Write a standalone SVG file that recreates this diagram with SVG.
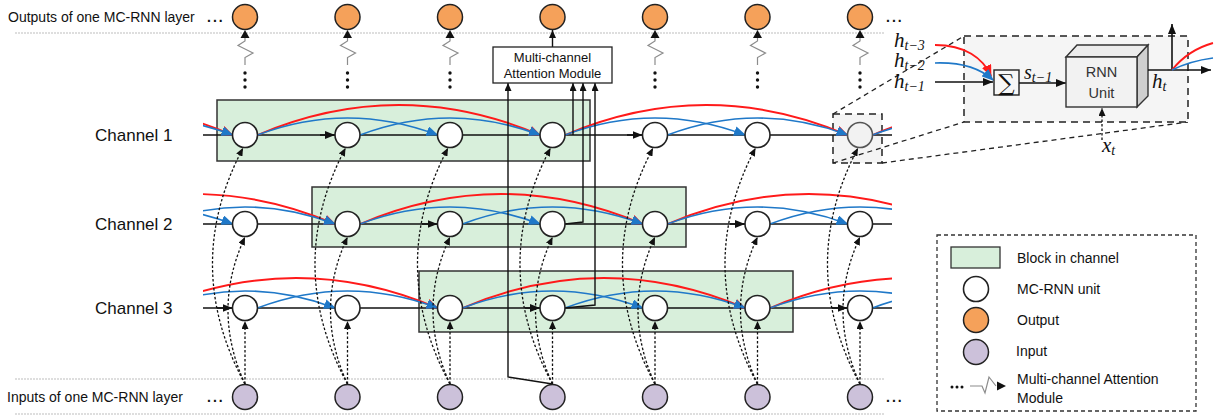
<svg xmlns="http://www.w3.org/2000/svg" width="1219" height="420" viewBox="0 0 1219 420">
<style>
text{font-family:"Liberation Sans",Arial,sans-serif;fill:#111}
.lbl{font-size:14px}
.ch{font-size:17px}
.dots{font-size:14px;font-weight:bold;letter-spacing:2px}
.mi{font-family:"Liberation Serif","DejaVu Serif",serif;font-style:italic}
.sep{stroke:#bdbdbd;stroke-width:1;stroke-dasharray:2 1;fill:none}
.blk{fill:#d8efdb;stroke:#333;stroke-width:1.5}
.hl{stroke:#111;stroke-width:1.6;fill:none}
.red{stroke:#ff1a1a;stroke-width:1.9;fill:none}
.blue{stroke:#1f78c8;stroke-width:1.6;fill:none}
.dot{stroke:#111;stroke-width:1.3;stroke-dasharray:2.5 2;fill:none}
.ln{stroke:#111;stroke-width:1.4;fill:none}
.zig{stroke:#8c8c8c;stroke-width:1.2;fill:none}
.unit{fill:#fff;stroke:#222;stroke-width:1.6}
.out{fill:#f5a15a;stroke:#222;stroke-width:1.5}
.inp{fill:#ccc1da;stroke:#222;stroke-width:1.5}
.dash{stroke:#222;stroke-width:1.5;stroke-dasharray:7 5}
.dl{stroke:#222;stroke-width:1.3;stroke-dasharray:5 4;fill:none}
</style>
<defs>
<marker id="aK" markerUnits="userSpaceOnUse" markerWidth="10" markerHeight="8" refX="10" refY="4" orient="auto"><path d="M0,0 L10,4 L0,8 z" fill="#111"/></marker>
<marker id="aS" markerUnits="userSpaceOnUse" markerWidth="8" markerHeight="7" refX="8" refY="3.5" orient="auto"><path d="M0,0 L8,3.5 L0,7 z" fill="#111"/></marker>
<marker id="aB" markerUnits="userSpaceOnUse" markerWidth="12" markerHeight="10" refX="11" refY="5" orient="auto"><path d="M0,0 L12,5 L0,10 z" fill="#1f78c8"/></marker>
<marker id="aR" markerUnits="userSpaceOnUse" markerWidth="12" markerHeight="10" refX="11" refY="5" orient="auto"><path d="M0,0 L12,5 L0,10 z" fill="#ff1a1a"/></marker>
<clipPath id="cl"><rect x="203" y="60" width="689" height="270"/></clipPath>
<g id="stack">
<polygon points="0,30 -4.5,38 4.5,38" fill="#111"/>
<polyline class="zig" points="0,38 0,41 -7,45.5 8,53 0,57.5 0,65"/>
<circle cx="0" cy="73" r="1.7" fill="#111"/><circle cx="0" cy="80" r="1.7" fill="#111"/><circle cx="0" cy="87" r="1.7" fill="#111"/>
</g>
</defs>

<!-- separators -->
<line class="sep" x1="15" y1="33" x2="885" y2="33"/>
<line class="sep" x1="15" y1="379" x2="885" y2="379"/>
<line class="sep" x1="15" y1="414" x2="885" y2="414"/>

<text class="lbl" x="8" y="22">Outputs of one MC-RNN layer</text>
<text class="dots" x="207" y="22">...</text>
<text class="dots" x="886" y="22">...</text>
<text class="lbl" x="7" y="402">Inputs of one MC-RNN layer</text>
<text class="dots" x="207" y="402">...</text>
<text class="dots" x="886" y="402">...</text>

<text class="ch" x="95" y="141">Channel 1</text>
<text class="ch" x="95" y="230">Channel 2</text>
<text class="ch" x="95" y="314">Channel 3</text>

<!-- blocks -->
<g id="blocks">
<rect class="blk" x="217" y="100" width="373" height="61"/>
<rect class="blk" x="312" y="187" width="374" height="60"/>
<rect class="blk" x="419" y="271" width="374" height="61"/>
</g>

<!-- inset small box -->
<rect id="zoombox" x="833" y="114" width="49" height="49" fill="#f4f4f4" class="dash"/>

<g id="connectors">
<!-- channel lines -->
<line class="hl" x1="203" y1="135" x2="892" y2="135"/>
<line class="hl" x1="203" y1="224" x2="892" y2="224"/>
<line class="hl" x1="203" y1="308" x2="892" y2="308"/>
<path class="hl" marker-end="url(#aK)" d="M320 135 H335"/>
<path class="hl" marker-end="url(#aK)" d="M627 135 H642.5"/>
<path class="hl" marker-end="url(#aK)" d="M422 224 H437.5"/>
<path class="hl" marker-end="url(#aK)" d="M730 224 H745"/>
<path class="hl" marker-end="url(#aK)" d="M217 308 H232.5"/>
<path class="hl" marker-end="url(#aK)" d="M525 308 H540"/>
<path class="hl" marker-end="url(#aK)" d="M832 308 H847.5"/>

<g clip-path="url(#cl)">
<!-- red arcs -->
<path class="red" marker-end="url(#aR)" d="M-50 135 Q91.25 75 232.5 135"/>
<path class="red" marker-end="url(#aR)" d="M257.5 135 Q398.75 75 540 135"/>
<path class="red" marker-end="url(#aR)" d="M565 135 Q706.25 75 847.5 135"/>
<path class="red" d="M872.5 135 Q1013.75 75 1155 135"/>
<path class="red" marker-end="url(#aR)" d="M52.5 224 Q193.75 164 335 224"/>
<path class="red" marker-end="url(#aR)" d="M360 224 Q501.25 164 642.5 224"/>
<path class="red" d="M667.5 224 Q808.75 164 950 224"/>
<path class="red" marker-end="url(#aR)" d="M155 308 Q296.25 248 437.5 308"/>
<path class="red" marker-end="url(#aR)" d="M462.5 308 Q603.75 248 745 308"/>
<path class="red" d="M770 308 Q911.25 248 1052.5 308"/>
<!-- blue arcs -->
<path class="blue" marker-end="url(#aB)" d="M52.5 135 Q142.5 101 232.5 135"/>
<path class="blue" marker-end="url(#aB)" d="M257.5 135 Q347.5 101 437.5 135"/>
<path class="blue" marker-end="url(#aB)" d="M360 135 Q450 101 540 135"/>
<path class="blue" marker-end="url(#aB)" d="M565 135 Q655 101 745 135"/>
<path class="blue" marker-end="url(#aB)" d="M667.5 135 Q757.5 101 847.5 135"/>
<path class="blue" d="M872.5 135 Q962.5 101 1052.5 135"/>
<path class="blue" marker-end="url(#aB)" d="M52.5 224 Q142.5 190 232.5 224"/>
<path class="blue" marker-end="url(#aB)" d="M155 224 Q245 190 335 224"/>
<path class="blue" marker-end="url(#aB)" d="M360 224 Q450 190 540 224"/>
<path class="blue" marker-end="url(#aB)" d="M462.5 224 Q552.5 190 642.5 224"/>
<path class="blue" marker-end="url(#aB)" d="M667.5 224 Q757.5 190 847.5 224"/>
<path class="blue" d="M770 224 Q860 190 950 224"/>
<path class="blue" marker-end="url(#aB)" d="M155 308 Q245 274 335 308"/>
<path class="blue" marker-end="url(#aB)" d="M257.5 308 Q347.5 274 437.5 308"/>
<path class="blue" marker-end="url(#aB)" d="M462.5 308 Q552.5 274 642.5 308"/>
<path class="blue" marker-end="url(#aB)" d="M565 308 Q655 274 745 308"/>
<path class="blue" d="M770 308 Q860 274 950 308"/>
<path class="blue" d="M872.5 308 Q962.5 274 1052.5 308"/>
</g>

<!-- input dotted connectors -->
<g id="inputlinks">
<path class="dot" marker-end="url(#aS)" d="M245 384 V321"/>
<path class="dot" marker-end="url(#aS)" d="M245 384 Q211 310 245 237"/>
<path class="dot" marker-end="url(#aS)" d="M245 384 Q181 266 243 148"/>
<path class="dot" marker-end="url(#aS)" d="M347.5 384 V321"/>
<path class="dot" marker-end="url(#aS)" d="M347.5 384 Q313.5 310 347.5 237"/>
<path class="dot" marker-end="url(#aS)" d="M347.5 384 Q283.5 266 345.5 148"/>
<path class="dot" marker-end="url(#aS)" d="M450 384 V321"/>
<path class="dot" marker-end="url(#aS)" d="M450 384 Q416 310 450 237"/>
<path class="dot" marker-end="url(#aS)" d="M450 384 Q386 266 448 148"/>
<path class="dot" marker-end="url(#aS)" d="M552.5 384 V321"/>
<path class="dot" marker-end="url(#aS)" d="M552.5 384 Q518.5 310 552.5 237"/>
<path class="dot" marker-end="url(#aS)" d="M552.5 384 Q488.5 266 550.5 148"/>
<path class="dot" marker-end="url(#aS)" d="M655 384 V321"/>
<path class="dot" marker-end="url(#aS)" d="M655 384 Q621 310 655 237"/>
<path class="dot" marker-end="url(#aS)" d="M655 384 Q591 266 653 148"/>
<path class="dot" marker-end="url(#aS)" d="M757.5 384 V321"/>
<path class="dot" marker-end="url(#aS)" d="M757.5 384 Q723.5 310 757.5 237"/>
<path class="dot" marker-end="url(#aS)" d="M757.5 384 Q693.5 266 755.5 148"/>
<path class="dot" marker-end="url(#aS)" d="M860 384 V321"/>
<path class="dot" marker-end="url(#aS)" d="M860 384 Q826 310 860 237"/>
<path class="dot" marker-end="url(#aS)" d="M860 384 Q796 266 858 148"/>
</g>

<!-- attention module links -->
<path class="ln" marker-end="url(#aS)" d="M552.5 384 L508 377 V83"/>
<path class="ln" marker-end="url(#aS)" d="M573 135 V83"/>
<path class="ln" marker-end="url(#aS)" d="M565 224 L583 222 V83"/>
<path class="ln" marker-end="url(#aS)" d="M565 308 L595 305 V83"/>
<path class="ln" marker-end="url(#aS)" d="M552.5 47 V30"/>

<!-- output stacks -->
<use href="#stack" x="245"/>
<use href="#stack" x="347.5"/>
<use href="#stack" x="450"/>
<use href="#stack" x="655"/>
<use href="#stack" x="757.5"/>
<use href="#stack" x="860"/>

<!-- zoom lines -->
<path class="dl" d="M833 114 L964 36"/>
<path class="dl" d="M833 163 L964 122"/>
<path class="dl" d="M882 163 L1188 122"/>
</g>

<g id="attention">
<rect x="493" y="47" width="119" height="36" fill="#fff" stroke="#222" stroke-width="1.3"/>
<text class="lbl" x="552.5" y="61.5" text-anchor="middle" style="font-size:13px">Multi-channel</text>
<text class="lbl" x="552.5" y="78" text-anchor="middle" style="font-size:13px">Attention Module</text>
</g>

<!-- outputs -->
<g id="outputs">
<circle class="out" cx="245" cy="17" r="12.5"/>
<circle class="out" cx="347.5" cy="17" r="12.5"/>
<circle class="out" cx="450" cy="17" r="12.5"/>
<circle class="out" cx="552.5" cy="17" r="12.5"/>
<circle class="out" cx="655" cy="17" r="12.5"/>
<circle class="out" cx="757.5" cy="17" r="12.5"/>
<circle class="out" cx="860" cy="17" r="12.5"/>
</g>

<g id="channel1">
<circle class="unit" cx="245" cy="135" r="12.5"/>
<circle class="unit" cx="347.5" cy="135" r="12.5"/>
<circle class="unit" cx="450" cy="135" r="12.5"/>
<circle class="unit" cx="552.5" cy="135" r="12.5"/>
<circle class="unit" cx="655" cy="135" r="12.5"/>
<circle class="unit" cx="757.5" cy="135" r="12.5"/>
<circle cx="860" cy="135" r="12.5" fill="#f2f2f2" stroke="#555" stroke-width="1.6"/>
</g>
<g id="channel2">
<circle class="unit" cx="245" cy="224" r="12.5"/>
<circle class="unit" cx="347.5" cy="224" r="12.5"/>
<circle class="unit" cx="450" cy="224" r="12.5"/>
<circle class="unit" cx="552.5" cy="224" r="12.5"/>
<circle class="unit" cx="655" cy="224" r="12.5"/>
<circle class="unit" cx="757.5" cy="224" r="12.5"/>
<circle class="unit" cx="860" cy="224" r="12.5"/>
</g>
<g id="channel3">
<circle class="unit" cx="245" cy="308" r="12.5"/>
<circle class="unit" cx="347.5" cy="308" r="12.5"/>
<circle class="unit" cx="450" cy="308" r="12.5"/>
<circle class="unit" cx="552.5" cy="308" r="12.5"/>
<circle class="unit" cx="655" cy="308" r="12.5"/>
<circle class="unit" cx="757.5" cy="308" r="12.5"/>
<circle class="unit" cx="860" cy="308" r="12.5"/>
</g>
<g id="inputs">
<circle class="inp" cx="245" cy="397" r="12.5"/>
<circle class="inp" cx="347.5" cy="397" r="12.5"/>
<circle class="inp" cx="450" cy="397" r="12.5"/>
<circle class="inp" cx="552.5" cy="397" r="12.5"/>
<circle class="inp" cx="655" cy="397" r="12.5"/>
<circle class="inp" cx="757.5" cy="397" r="12.5"/>
<circle class="inp" cx="860" cy="397" r="12.5"/>
</g>

<!-- inset detail -->
<g id="inset">
<rect x="964" y="36" width="224" height="86" fill="#f5f5f5" class="dash"/>
<text x="894" y="47"><tspan class="mi" font-size="21">h</tspan><tspan font-size="14" dy="3" class="mi">t−3</tspan></text>
<text x="894" y="67"><tspan class="mi" font-size="21">h</tspan><tspan font-size="14" dy="3" class="mi">t−2</tspan></text>
<text x="894" y="88"><tspan class="mi" font-size="21">h</tspan><tspan font-size="14" dy="3" class="mi">t−1</tspan></text>
<path class="red" marker-end="url(#aR)" d="M935 45 C965 45 983 58 991 76"/>
<path class="blue" marker-end="url(#aB)" d="M935 63 C963 62 981 69 993 80"/>
<path class="hl" marker-end="url(#aK)" d="M935 82 H993"/>
<rect x="994" y="70" width="25" height="25" fill="#f7f7f7" stroke="#222" stroke-width="1.4"/>
<text x="1006.5" y="91" text-anchor="middle" font-size="23" style="font-family:'DejaVu Serif','Liberation Serif',serif">∑</text>
<text x="1024" y="79"><tspan class="mi" font-size="20">s</tspan><tspan font-size="14" dy="3" class="mi">t−1</tspan></text>
<path class="hl" marker-end="url(#aK)" d="M1019 83 H1066"/>
<polygon points="1066,57 1077,45 1148,45 1137,57" fill="#ececec" stroke="#333" stroke-width="1.4"/>
<polygon points="1137,57 1148,45 1148,96 1137,107" fill="#cfcfcf" stroke="#333" stroke-width="1.4"/>
<rect x="1066" y="57" width="71" height="50" fill="#f2f2f2" stroke="#333" stroke-width="1.4"/>
<text x="1101.5" y="77" text-anchor="middle" style="font-size:14.5px;fill:#333">RNN</text>
<text x="1101.5" y="98" text-anchor="middle" style="font-size:14.5px;fill:#333">Unit</text>
<path class="hl" marker-end="url(#aK)" d="M1148 70 H1211"/>
<path class="hl" marker-end="url(#aK)" d="M1172 70 V24"/>
<path class="red" d="M1172 70 Q1188 50 1213 43"/>
<path class="blue" d="M1172 70 Q1190 61 1213 58"/>
<text x="1152" y="88"><tspan class="mi" font-size="21">h</tspan><tspan font-size="14" dy="3" class="mi">t</tspan></text>
<path class="dot" marker-end="url(#aS)" d="M1102 140 V108"/>
<text x="1102" y="152"><tspan class="mi" font-size="21">x</tspan><tspan font-size="14" dy="3" class="mi">t</tspan></text>
</g>

<!-- legend -->
<g id="legend">
<rect x="937" y="235" width="259" height="176" fill="#fff" stroke="#333" stroke-width="1.3" stroke-dasharray="4 3"/>
<rect class="blk" x="951" y="247" width="49" height="21" style="stroke-width:1.3"/>
<text class="lbl" x="1017" y="263">Block in channel</text>
<circle class="unit" cx="976" cy="289" r="12.5"/>
<text class="lbl" x="1017" y="294">MC-RNN unit</text>
<circle class="out" cx="976" cy="320" r="12.5"/>
<text class="lbl" x="1017" y="325">Output</text>
<circle class="inp" cx="976" cy="352" r="12.5"/>
<text class="lbl" x="1016" y="356">Input</text>
<circle cx="952" cy="387" r="1.5" fill="#111"/><circle cx="957" cy="387" r="1.5" fill="#111"/><circle cx="962" cy="387" r="1.5" fill="#111"/>
<polyline class="zig" points="970,386 982,386 985,393 989,377 996,386"/>
<polygon points="997,381.5 1006,386 997,390.5" fill="#111"/>
<text class="lbl" x="1017" y="384">Multi-channel Attention</text>
<text class="lbl" x="1017" y="403">Module</text>
</g>
</svg>
